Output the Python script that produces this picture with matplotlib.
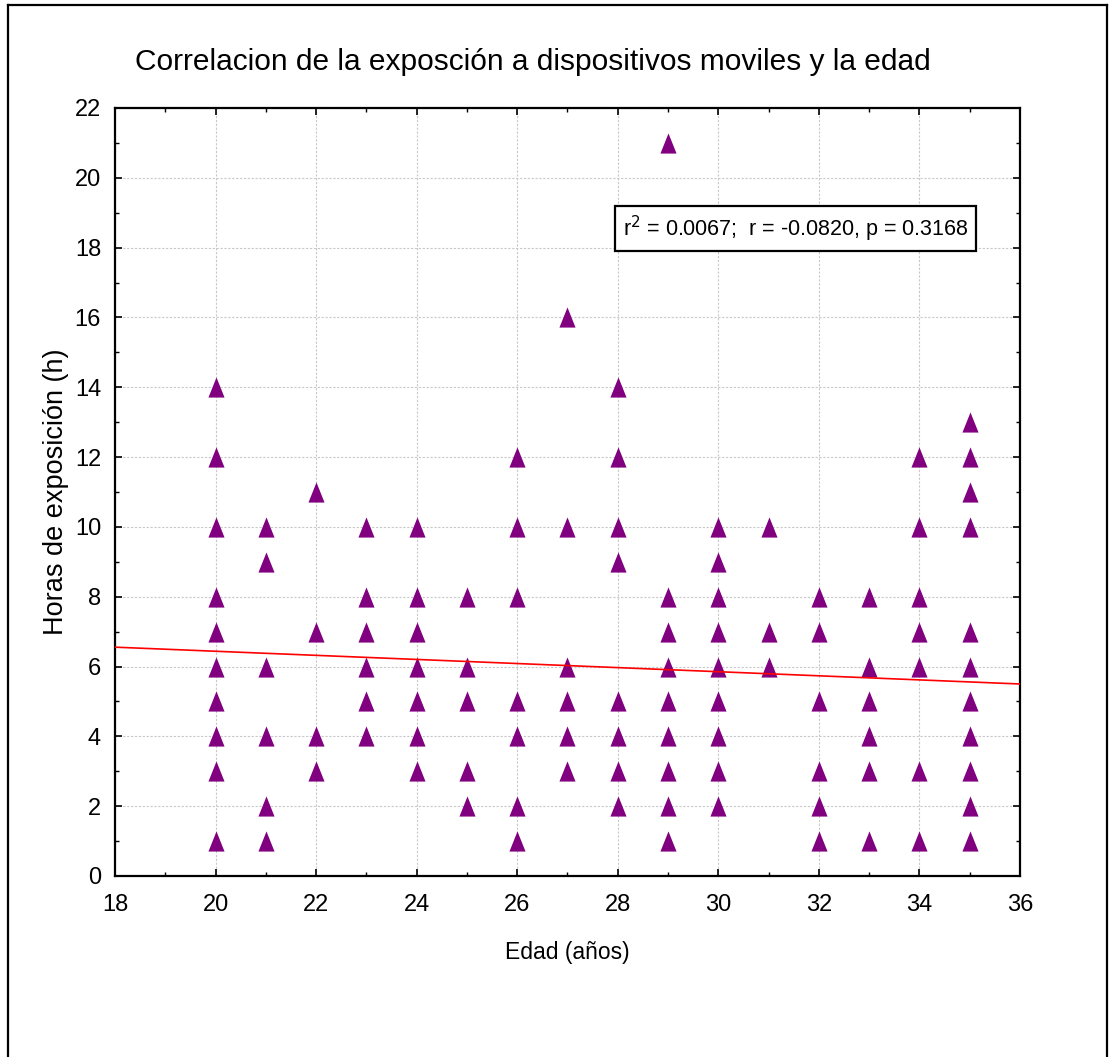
import matplotlib
matplotlib.use("Agg")
import matplotlib.pyplot as plt
from matplotlib.path import Path
from matplotlib.lines import Line2D
from matplotlib.ticker import MultipleLocator
from matplotlib import font_manager

# ---------------- data ----------------
ages = [20, 21, 22, 23, 24, 25, 26, 27, 28, 29, 30, 31, 32, 33, 34, 35]
hours_by_age = [
    [14, 12, 10, 8, 7, 6, 5, 4, 3, 1],          # 20
    [10, 9, 6, 4, 2, 1],                        # 21
    [11, 7, 4, 3],                              # 22
    [10, 8, 7, 6, 5, 4],                        # 23
    [10, 8, 7, 6, 5, 4, 3],                     # 24
    [8, 6, 5, 3, 2],                            # 25
    [12, 10, 8, 5, 4, 2, 1],                    # 26
    [16, 10, 6, 5, 4, 3],                       # 27
    [14, 12, 10, 9, 5, 4, 3, 2],                # 28
    [21, 8, 7, 6, 5, 4, 3, 2, 1],               # 29
    [10, 9, 8, 7, 6, 5, 4, 3, 2],               # 30
    [10, 7, 6],                                 # 31
    [8, 7, 5, 3, 2, 1],                         # 32
    [8, 6, 5, 4, 3, 1],                         # 33
    [12, 10, 8, 7, 6, 3, 1],                    # 34
    [13, 12, 11, 10, 7, 6, 5, 4, 3, 2, 1],      # 35
]
fit_intercept = 7.61
fit_slope = -0.0586
x_range = [18, 36]

title = "Correlacion de la exposción a dispositivos moviles y la edad"
xlabel = "Edad (años)"
ylabel = "Horas de exposición (h)"
stats_text = r"r$^2$ = 0.0067;  r = -0.0820, p = 0.3168"

# ---------------- fonts ----------------
avail = {f.name for f in font_manager.fontManager.ttflist}
narrow = "Liberation Sans Narrow" if "Liberation Sans Narrow" in avail else "Liberation Sans"
regular = "Liberation Sans"

xs, ys = [], []
for a, hs in zip(ages, hours_by_age):
    for h in hs:
        xs.append(a)
        ys.append(h)

fig = plt.figure(figsize=(11.10, 10.57), dpi=100)
ax = fig.add_axes([115/1110, 1 - 876/1057, (1020 - 115)/1110, (876 - 108)/1057])

tri = Path([(0, 1), (-0.8, -1), (0.8, -1), (0, 1)],
           [Path.MOVETO, Path.LINETO, Path.LINETO, Path.CLOSEPOLY])
ax.plot(xs, ys, linestyle="none", marker=tri, markersize=14.5,
        color="#800080", markeredgewidth=0, zorder=3)

fx = x_range
fy = [fit_intercept + fit_slope * v for v in fx]
ax.plot(fx, fy, color="#ff0000", linewidth=1.2, zorder=4)

ax.set_xlim(18, 36)
ax.set_ylim(0, 22)
ax.xaxis.set_major_locator(MultipleLocator(2))
ax.xaxis.set_minor_locator(MultipleLocator(1))
ax.yaxis.set_major_locator(MultipleLocator(2))
ax.yaxis.set_minor_locator(MultipleLocator(1))
ax.grid(True, which="major", color="#c8c8c8", linestyle=(0, (2, 1.5)), linewidth=0.8)
ax.set_axisbelow(True)
ax.tick_params(which="both", direction="in", top=True, right=True, color="black")
ax.tick_params(which="major", length=5, width=1.2, labelsize=17, pad=10)
ax.tick_params(which="minor", length=3, width=1.0)
for lab in ax.get_xticklabels() + ax.get_yticklabels():
    lab.set_fontfamily(narrow)
ax.tick_params(axis="x", pad=13)
for s in ax.spines.values():
    s.set_linewidth(1.6)

ax.set_xlabel(xlabel, fontsize=16.5, fontfamily=narrow, labelpad=18)
ax.set_ylabel(ylabel, fontsize=19.5, fontfamily=regular, labelpad=4)

fig.text(533/1110, 1 - 62/1057, title, ha="center", va="center",
         fontsize=21.5, fontfamily=narrow)

ax.text(31.54, 18.54, stats_text, ha="center", va="center", fontsize=15.5,
        fontfamily=narrow, zorder=5,
        bbox=dict(boxstyle="square,pad=0.35", facecolor="white",
                  edgecolor="black", linewidth=1.6))

# outer frame
fig.add_artist(Line2D([8/1110, 8/1110], [0, 1 - 5/1057], color="black", linewidth=1.6))
fig.add_artist(Line2D([8/1110, 1107/1110], [1 - 5/1057, 1 - 5/1057], color="black", linewidth=1.6))
fig.add_artist(Line2D([1107/1110, 1107/1110], [0, 1 - 5/1057], color="black", linewidth=1.6))

fig.savefig("out.png", dpi=100, facecolor="white")
